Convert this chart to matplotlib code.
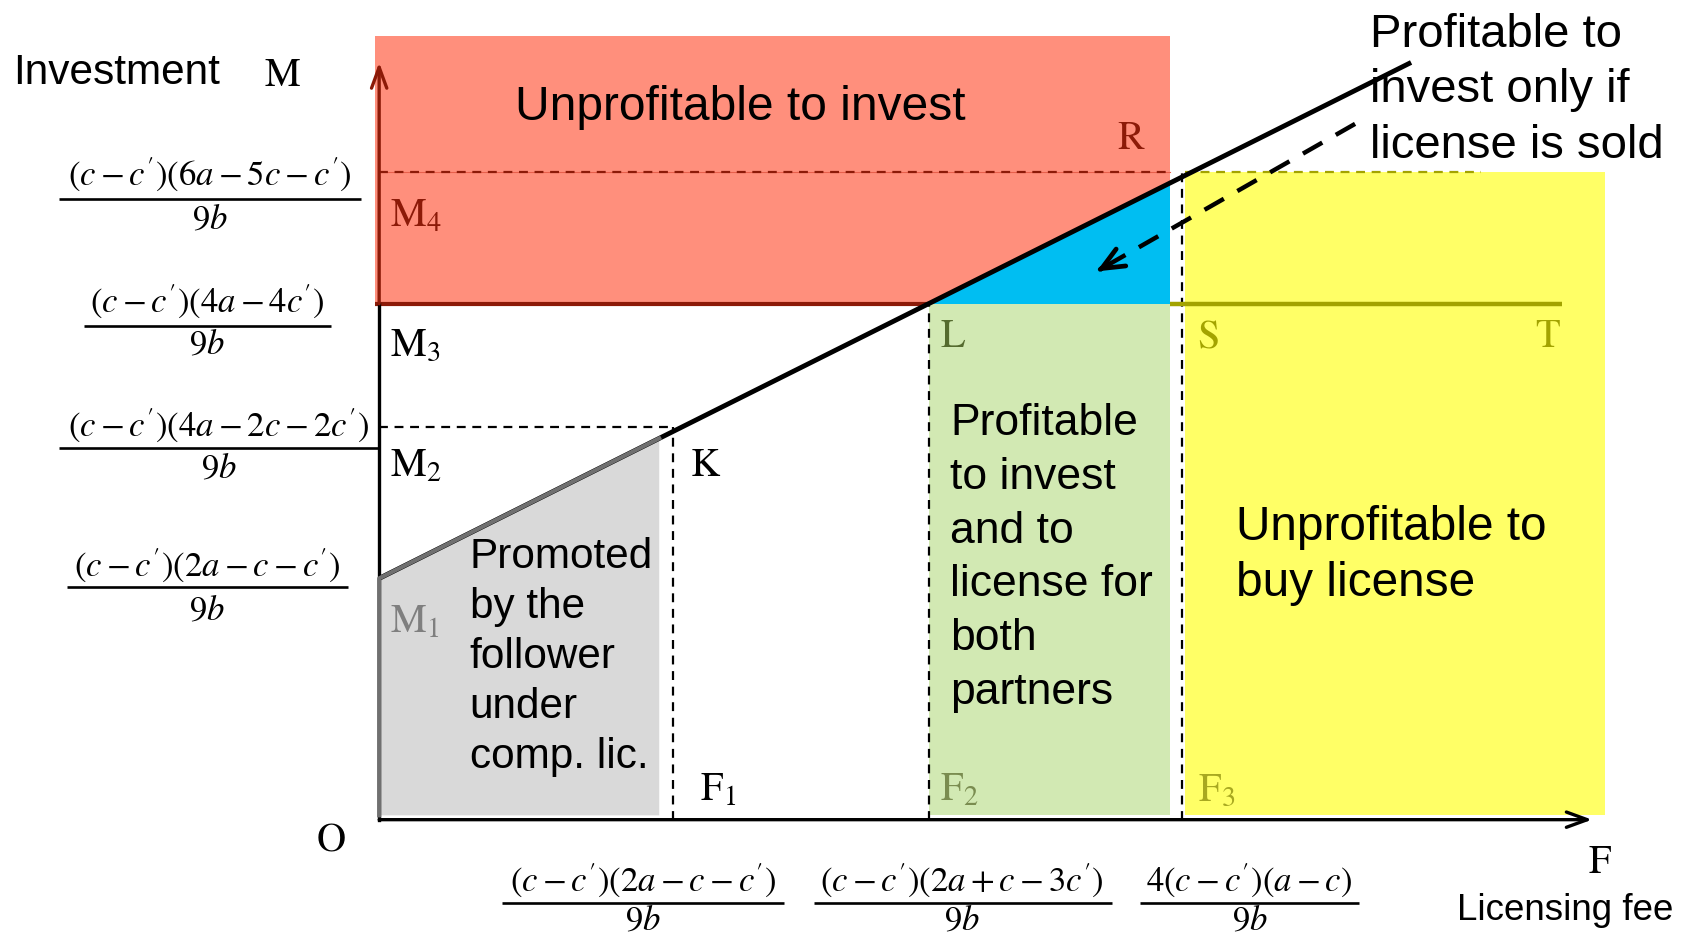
import numpy as np
import matplotlib
matplotlib.use("Agg")
import matplotlib.pyplot as plt
from matplotlib.patches import Polygon, Rectangle

plt.rcParams['mathtext.fontset'] = 'stix'
plt.rcParams['font.family'] = ['Liberation Sans', 'DejaVu Sans']

# ---------------- data ----------------
F_levels = [2.73, 5.10, 7.45]            # F1, F2, F3 licensing-fee thresholds
M_levels = [2.24, 3.65, 4.79, 6.01]      # M1, M2, M3, M4 investment thresholds
line_F = [0.0, 9.58]                     # boundary line end points (F)
line_M = [2.24, 7.03]                    # boundary line end points (M)
red_F = [-0.04, 7.34]; red_M = [4.79, 7.28]
green_F = [5.10, 7.34]; green_M = [0.04, 4.79]
yellow_F = [7.48, 11.38]; yellow_M = [0.04, 6.01]
gray_F = [0.0, 2.60]; gray_M0 = 0.04
st_F = [7.34, 10.98]
m4_dash_red_F = [0.0, 7.34]
m4_dash_yel_F = [7.48, 10.23]
axis_end_F = 11.26
axis_end_M = 7.03
arrow_from = (9.06, 6.46)
arrow_to = (6.66, 5.09)

y_fracs = [r'$(c-c^{\prime})(2a-c-c^{\prime})$',
           r'$(c-c^{\prime})(4a-2c-2c^{\prime})$',
           r'$(c-c^{\prime})(4a-4c^{\prime})$',
           r'$(c-c^{\prime})(6a-5c-c^{\prime})$']
y_frac_cx = [-1.60, -1.49, -1.60, -1.57]
y_frac_num = [2.36, 3.66, 4.81, 5.99]
y_frac_bar = [2.16, 3.45, 4.58, 5.76]
y_frac_den = [1.94, 3.26, 4.41, 5.57]
y_frac_x0 = [-2.90, -2.97, -2.74, -2.97]
y_frac_x1 = [-0.29, 0.0, -0.45, -0.17]

x_fracs = [r'$(c-c^{\prime})(2a-c-c^{\prime})$',
           r'$(c-c^{\prime})(2a+c-3c^{\prime})$',
           r'$4(c-c^{\prime})(a-c)$']
x_frac_cx = [2.45, 5.41, 8.08]
x_frac_x0 = [1.14, 4.04, 7.06]
x_frac_x1 = [3.76, 6.80, 9.10]
x_frac_num, x_frac_bar, x_frac_den = -0.57, -0.77, -0.94

# ---------------- colours ----------------
RED = '#FF8F7C'; DRED = '#8C1A08'; BLUE = '#00BEF2'; GREEN = '#D2E9B3'
YEL = '#FFFF66'; GRAY = '#D9D9D9'; GEDGE = '#707070'; OLIVE = '#A3A300'

fig = plt.figure(figsize=(16.89, 9.36), dpi=100)
ax = fig.add_axes([0, 0, 1, 1])
ax.set_xlim(-3.52, 12.16)
ax.set_ylim(-1.08, 7.61)
ax.axis('off')

# regions
ax.add_patch(Rectangle((red_F[0], red_M[0]), red_F[1]-red_F[0], red_M[1]-red_M[0],
                       facecolor=RED, edgecolor='none', zorder=1))
ax.add_patch(Rectangle((green_F[0], green_M[0]), green_F[1]-green_F[0], green_M[1]-green_M[0],
                       facecolor=GREEN, edgecolor='none', zorder=1))
ax.add_patch(Rectangle((yellow_F[0], yellow_M[0]), yellow_F[1]-yellow_F[0], yellow_M[1]-yellow_M[0],
                       facecolor=YEL, edgecolor='none', zorder=1))
m_at_red_end = np.interp(red_F[1], line_F, line_M)
ax.add_patch(Polygon([(F_levels[1], M_levels[2]), (red_F[1], M_levels[2]), (red_F[1], m_at_red_end)],
                     closed=True, facecolor=BLUE, edgecolor='none', zorder=1.5))
m_gray = np.interp(gray_F, line_F, line_M)
ax.add_patch(Polygon([(gray_F[0], gray_M0), (gray_F[0], m_gray[0]), (gray_F[1], m_gray[1]), (gray_F[1], gray_M0)],
                     closed=True, facecolor=GRAY, edgecolor='none', zorder=1))

# dashed guide lines
ax.plot(m4_dash_red_F, [M_levels[3]]*2, color='#E8604C', lw=0.8, zorder=2)
ax.plot(m4_dash_red_F, [M_levels[3]]*2, color=DRED, lw=1.6, ls=(0, (4, 3)), zorder=2)
ax.plot(m4_dash_yel_F, [M_levels[3]]*2, color=OLIVE, lw=1.6, ls=(0, (4, 3)), zorder=2)
ax.plot([0, F_levels[0]], [M_levels[1]]*2, color='black', lw=1.6, ls=(0, (4, 3)), zorder=2)
ax.plot([F_levels[0]]*2, [0, M_levels[1]], color='black', lw=1.6, ls=(0, (4, 3)), zorder=2)
ax.plot([F_levels[1]]*2, [0, M_levels[2]], color='black', lw=1.6, ls=(0, (4, 3)), zorder=2)
ax.plot([F_levels[2]]*2, [0, M_levels[3]], color='black', lw=1.6, ls=(0, (4, 3)), zorder=2)

# S-T line and red bottom border
ax.plot(st_F, [M_levels[2]]*2, color=OLIVE, lw=3.2, solid_capstyle='butt', zorder=2.5)
ax.plot([red_F[0], F_levels[1]], [M_levels[2]]*2, color=DRED, lw=3.0, solid_capstyle='butt', zorder=2.5)

# gray region edge
ax.plot([gray_F[0], gray_F[0], gray_F[1]], [gray_M0, m_gray[0], m_gray[1]], color=GEDGE, lw=3.0, zorder=3.5)

# main boundary line
ax.plot(line_F, line_M, color='black', lw=3.5, solid_capstyle='butt', zorder=3)

# axes
ax.plot([0, 0], [0, M_levels[2]], color='black', lw=2.4, zorder=3)
ax.annotate('', xy=(0, axis_end_M), xytext=(0, M_levels[2]),
            arrowprops=dict(arrowstyle='->,head_length=1.5,head_width=0.55', lw=2.4, color=DRED,
                            shrinkA=0, shrinkB=0), zorder=3)
ax.annotate('', xy=(axis_end_F, 0), xytext=(0, 0),
            arrowprops=dict(arrowstyle='->,head_length=1.5,head_width=0.55', lw=2.4, color='black',
                            shrinkA=0, shrinkB=0), zorder=3)

# dashed arrow
ax.plot([arrow_from[0], arrow_to[0]], [arrow_from[1], arrow_to[1]], color='black', lw=3.2,
        ls=(0, (5, 3.5)), zorder=4)
d = np.array(arrow_to) - np.array(arrow_from)
d = d / np.hypot(*d)
ax.annotate('', xy=arrow_to, xytext=tuple(np.array(arrow_to) - 0.05 * d),
            arrowprops=dict(arrowstyle='->,head_length=1.6,head_width=0.7', lw=3.4, color='black',
                            shrinkA=0, shrinkB=0), zorder=4)

# fraction labels
FS_FRAC = 25
for s, cx, yn, yb, yd, x0, x1 in zip(y_fracs, y_frac_cx, y_frac_num, y_frac_bar, y_frac_den, y_frac_x0, y_frac_x1):
    ax.text(cx, yn, s, fontsize=FS_FRAC, ha='center', va='center', zorder=5)
    ax.plot([x0, x1], [yb, yb], color='black', lw=1.9, solid_capstyle='butt', zorder=5)
    ax.text(cx, yd, r'$9b$', fontsize=FS_FRAC, ha='center', va='center', zorder=5)
for s, cx, x0, x1 in zip(x_fracs, x_frac_cx, x_frac_x0, x_frac_x1):
    ax.text(cx, x_frac_num, s, fontsize=FS_FRAC, ha='center', va='center', zorder=5)
    ax.plot([x0, x1], [x_frac_bar]*2, color='black', lw=1.9, solid_capstyle='butt', zorder=5)
    ax.text(cx, x_frac_den, r'$9b$', fontsize=FS_FRAC, ha='center', va='center', zorder=5)

# point labels (serif)
FS_PT = 29
pts = [(r'$\mathrm{M}_{4}$', 0.10, 5.61, DRED), (r'$\mathrm{M}_{3}$', 0.10, 4.41, 'black'),
       (r'$\mathrm{M}_{2}$', 0.10, 3.29, 'black'), (r'$\mathrm{M}_{1}$', 0.10, 1.84, '#7F7F7F'),
       (r'$\mathrm{R}$', 6.85, 6.33, DRED), (r'$\mathrm{L}$', 5.21, 4.49, '#556B2F'),
       (r'$\mathrm{K}$', 2.89, 3.29, 'black'), (r'$\mathrm{S}$', 7.59, 4.49, OLIVE),
       (r'$\mathrm{T}$', 10.73, 4.49, OLIVE), (r'$\mathrm{F}_{1}$', 2.98, 0.28, 'black'),
       (r'$\mathrm{F}_{2}$', 5.21, 0.28, '#7A8C50'), (r'$\mathrm{F}_{3}$', 7.60, 0.28, '#A8A820')]
for s, x, y, c in pts:
    ax.text(x, y, s, fontsize=FS_PT, color=c, ha='left', va='center', zorder=5)
ax.text(-0.90, 6.91, r'$\mathrm{M}$', fontsize=FS_PT, ha='center', va='center', zorder=5)
ax.text(-0.45, -0.18, r'$\mathrm{O}$', fontsize=FS_PT, ha='center', va='center', zorder=5)
ax.text(11.33, -0.39, r'$\mathrm{F}$', fontsize=FS_PT, ha='center', va='center', zorder=5)

# axis titles
ax.text(-3.40, 6.93, 'Investment', fontsize=30.5, ha='left', va='center', zorder=5)
ax.text(11.01, -0.84, 'Licensing fee', fontsize=26.5, ha='center', va='center', zorder=5)

# region texts
ax.text(3.35, 6.61, 'Unprofitable to invest', fontsize=34.5, ha='center', va='center', zorder=5)
ax.text(9.20, 6.77, 'Profitable to\ninvest only if\nlicense is sold', fontsize=34,
        ha='left', va='center', linespacing=1.35, zorder=5)
ax.text(0.84, 1.51, 'Promoted\nby the\nfollower\nunder\ncomp. lic.', fontsize=30.4,
        ha='left', va='center', linespacing=1.33, zorder=5)
ax.text(5.30, 2.43, 'Profitable\nto invest\nand to\nlicense for\nboth\npartners', fontsize=32,
        ha='left', va='center', linespacing=1.4, zorder=5)
ax.text(7.95, 2.45, 'Unprofitable to\nbuy license', fontsize=34.4,
        ha='left', va='center', linespacing=1.32, zorder=5)

fig.savefig('out.png', dpi=100)
